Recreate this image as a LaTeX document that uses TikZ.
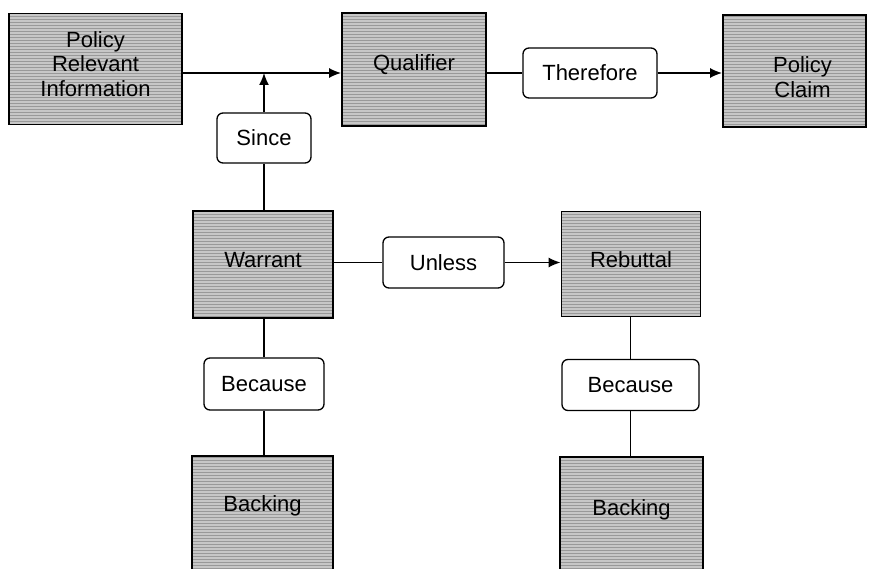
\documentclass[tikz,border=0pt]{standalone}
\usepackage{fontspec}
\setmainfont{Liberation Sans}
\usetikzlibrary{arrows.meta,patterns}
\begin{document}
\begin{tikzpicture}[x=1pt,y=-1pt,
  txt/.style={align=center, inner sep=0pt, font=\fontsize{22}{24.5}\selectfont},
  greybox/.style={draw=black, line width=1.8pt, preaction={fill=black!22},
    pattern=horizontal lines, pattern color=black!40, inner sep=0pt},
  wordbox/.style={txt, draw=black, line width=1.3pt, fill=white, rounded corners=6pt},
  link/.style={draw=black, line width=1.5pt},
  arr/.style={link, -{Latex[length=12pt,width=10pt]}}]
\useasboundingbox (0,0) rectangle (873,569);
\clip (0,0) rectangle (873,569);
% grey boxes
\node[greybox, minimum width=173pt, minimum height=111pt,
  label={[txt, yshift=5pt]center:Policy\\Relevant\\Information}] (pri) at (95.5,69) {};
\node[greybox, minimum width=144pt, minimum height=113pt,
  label={[txt, yshift=5pt]center:Qualifier}] (qual) at (414,69.5) {};
\node[greybox, minimum width=143pt, minimum height=112pt,
  label={[txt, yshift=-6pt, xshift=8pt]center:Policy\\Claim}] (claim) at (794.5,71) {};
\node[greybox, minimum width=140pt, minimum height=107pt,
  label={[txt, yshift=4pt]center:Warrant}] (warrant) at (263,264.5) {};
\node[greybox, minimum width=139pt, minimum height=105pt,
  label={[txt, yshift=4pt]center:Rebuttal}] (rebuttal) at (631,264) {};
\node[greybox, minimum width=141pt, minimum height=130pt] (backL) at (262.5,521) {};
\node[txt] (backLt) at (262.5,506) {Backing};
\node[greybox, minimum width=143pt, minimum height=130pt] (backR) at (631.5,522) {};
\node[txt] (backRt) at (631.5,510) {Backing};
% word boxes
\node[wordbox, minimum width=134pt, minimum height=50pt] (there) at (590,73) {Therefore};
\node[wordbox, minimum width=94pt, minimum height=50pt] (since) at (264,138) {Since};
\node[wordbox, minimum width=121pt, minimum height=51pt] (unless) at (443.5,262.5) {Unless};
\node[wordbox, minimum width=120pt, minimum height=52pt] (becL) at (264,384) {Because};
\node[wordbox, minimum width=137pt, minimum height=51pt] (becR) at (630.5,385) {Because};
% connectors
\coordinate (join) at (since.north |- there.west);
\draw[arr] (pri.east |- there.west) -- (qual.west |- there.west);
\draw[arr] (since.north) -- (join);
\draw[link] (warrant.north -| since.south) -- (since.south);
\draw[link] (qual.east |- there.west) -- (there.west);
\draw[arr] (there.east) -- (claim.west |- there.east);
\draw[link] (warrant.east |- unless.west) -- (unless.west);
\draw[arr] (unless.east) -- (rebuttal.west |- unless.east);
\draw[link] (warrant.south -| becL.north) -- (becL.north);
\draw[link] (becL.south) -- (backL.north -| becL.south);
\draw[link] (rebuttal.south -| becR.north) -- (becR.north);
\draw[link] (becR.south) -- (backR.north -| becR.south);
\end{tikzpicture}
\end{document}
